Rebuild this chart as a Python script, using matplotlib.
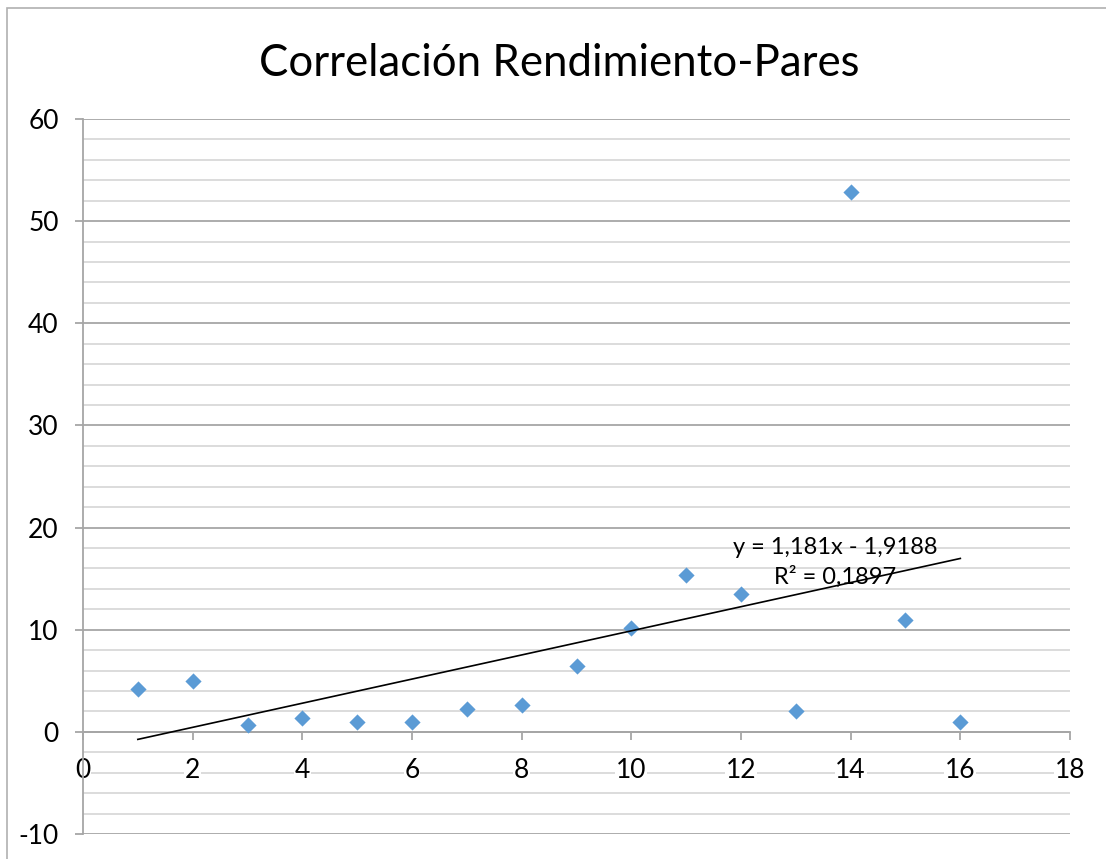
import matplotlib
matplotlib.use('Agg')
import matplotlib.pyplot as plt
from matplotlib.patches import Rectangle

plt.rcParams['font.family'] = ['Lato', 'DejaVu Sans']
plt.rcParams['axes.unicode_minus'] = False

# Rendimiento vs. pares
x_vals = [1, 2, 3, 4, 5, 6, 7, 8, 9, 10, 11, 12, 13, 14, 15, 16]
y_vals = [4.2, 5.0, 0.7, 1.4, 1.0, 1.0, 2.25, 2.6, 6.4, 10.2, 15.4, 13.5, 2.05, 52.9, 11.0, 1.0]

# linear trendline (Excel output)
slope = 1.181
intercept = -1.9188
r2 = 0.1897

title = 'Correlación Rendimiento-Pares'

def fmt(v):
    return str(v).replace('.', ',')

major_c = '#a6a6a6'
minor_c = '#d9d9d9'

fig = plt.figure(figsize=(11.06, 8.59), dpi=100)
ax = fig.add_axes([83 / 1106, 1 - 834 / 859, (1070 - 83) / 1106, (834 - 119) / 859])

# chart area border
fig.patches.append(Rectangle((7 / 1106, -1), 2, 2 - 8 / 859,
                             transform=fig.transFigure, fill=False,
                             edgecolor='#b0b0b0', linewidth=1.2))

ax.set_xlim(0, 18)
ax.set_ylim(-10, 60)
ax.set_xticks(range(0, 19, 2))
ax.set_yticks(range(-10, 61, 10))
ax.set_yticks(range(-10, 61, 2), minor=True)

ax.grid(which='minor', axis='y', color=minor_c, linewidth=1.3)
ax.grid(which='major', axis='y', color=major_c, linewidth=1.3)
ax.grid(which='major', axis='x', visible=False)
ax.set_axisbelow(True)
# x labels sit on top of the horizontal grid
ax.xaxis.set_zorder(1)

for s in ['top', 'right']:
    ax.spines[s].set_visible(False)
ax.spines['left'].set_color(major_c)
ax.spines['left'].set_linewidth(1.3)
ax.spines['bottom'].set_position(('data', 0))
ax.spines['bottom'].set_color(major_c)
ax.spines['bottom'].set_linewidth(1.3)

ax.tick_params(axis='y', which='major', length=5.5, width=1.3, color=major_c,
               pad=12, labelsize=19)
ax.tick_params(axis='y', which='minor', length=0)
ax.tick_params(axis='x', which='major', length=6, width=1.3, color=major_c,
               pad=12.5, labelsize=19)
for lbl in ax.get_xticklabels():
    lbl.set_bbox(dict(facecolor='white', edgecolor='none', pad=0.5))

ax.scatter(x_vals, y_vals, marker='D', s=68, color='#5b9bd5', zorder=3,
           linewidths=0)

tx = [x_vals[0], x_vals[-1]]
ty = [slope * v + intercept for v in tx]
ax.plot(tx, ty, color='black', linewidth=1.2, zorder=4)

sign = '-' if intercept < 0 else '+'
eq = f'y = {fmt(slope)}x {sign} {fmt(abs(intercept))}\nR² = {fmt(r2)}'
ax.text(13.72, 16.6, eq, ha='center', va='center', fontsize=17,
        linespacing=1.4, zorder=5)

fig.text(559 / 1106, 1 - 63 / 859, title, ha='center', va='center', fontsize=31.5)

fig.savefig('out.png', dpi=100)
